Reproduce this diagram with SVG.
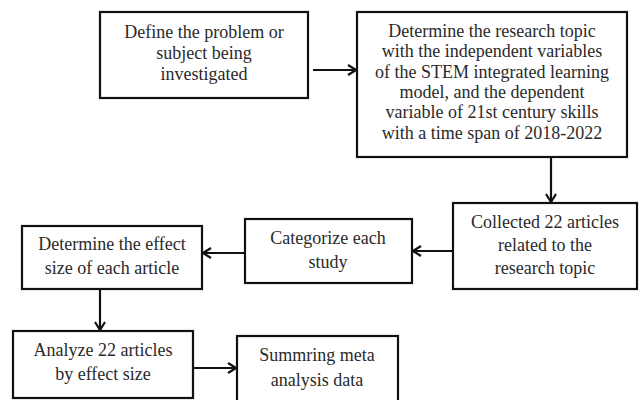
<svg xmlns="http://www.w3.org/2000/svg" width="640" height="400" viewBox="0 0 640 400">
<defs>
<marker id="arr" viewBox="0 0 10 12" refX="9" refY="6" markerWidth="10" markerHeight="12" markerUnits="userSpaceOnUse" orient="auto">
<path d="M1,1 L9,6 L1,11" fill="none" stroke="#111" stroke-width="2.2"/>
</marker>
</defs>
<style>
rect{fill:#fff;stroke:#111;stroke-width:2.2}
text{font-family:"Liberation Serif","Times New Roman",serif;font-size:18px;fill:#2a2a2a;text-anchor:middle}
.c{stroke:#111;stroke-width:2.2;fill:none;marker-end:url(#arr)}
</style>
<rect x="0" y="0" width="640" height="400" style="fill:#fff;stroke:none"/>
<g id="n1"><rect x="100" y="12" width="208" height="86"/>
<text x="204" y="38">Define the problem or</text>
<text x="204" y="59">subject being</text>
<text x="204" y="80">investigated</text></g>
<g id="n2"><rect x="357" y="12" width="270" height="145"/>
<text x="492" y="37">Determine the research topic</text>
<text x="492" y="57">with the independent variables</text>
<text x="492" y="78">of the STEM integrated learning</text>
<text x="492" y="98">model, and the dependent</text>
<text x="492" y="118">variable of 21st century skills</text>
<text x="492" y="139">with a time span of 2018-2022</text></g>
<g id="n3"><rect x="453" y="203" width="184" height="86"/>
<text x="545" y="228">Collected 22 articles</text>
<text x="545" y="251">related to the</text>
<text x="545" y="274">research topic</text></g>
<g id="n4"><rect x="245" y="219" width="167" height="64"/>
<text x="328" y="244">Categorize each</text>
<text x="328" y="268">study</text></g>
<g id="n5"><rect x="22" y="226" width="180" height="63"/>
<text x="112" y="250">Determine the effect</text>
<text x="112" y="274">size of each article</text></g>
<g id="n6"><rect x="13" y="331" width="180" height="67"/>
<text x="103" y="356">Analyze 22 articles</text>
<text x="103" y="380">by effect size</text></g>
<g id="n7"><rect x="237" y="336" width="161" height="70"/>
<text x="317" y="361">Summring meta</text>
<text x="317" y="386">analysis data</text></g>
<g id="connectors">
<path class="c" d="M313,70 H356"/>
<path class="c" d="M551,157 V202"/>
<path class="c" d="M453,251 H413"/>
<path class="c" d="M245,253 H203"/>
<path class="c" d="M100,289 V330"/>
<path class="c" d="M193,368 H236"/>
</g>
</svg>
